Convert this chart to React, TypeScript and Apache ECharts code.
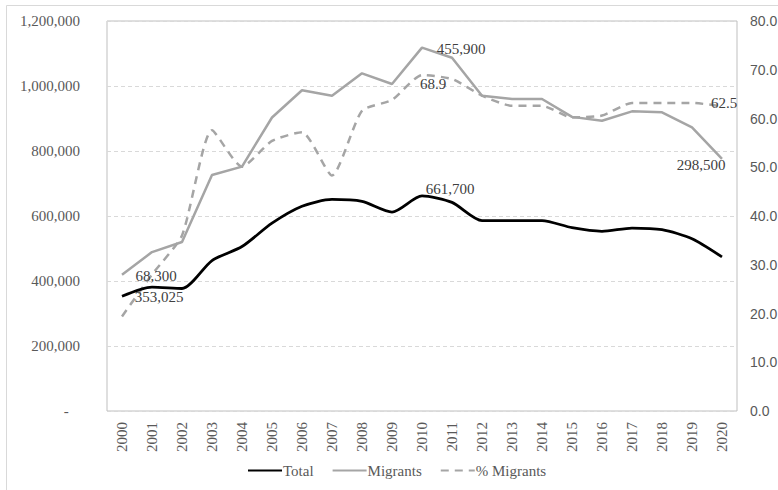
import React, { useEffect, useRef } from "react";
import * as echarts from "echarts";

const years = ["2000","2001","2002","2003","2004","2005","2006","2007","2008","2009","2010","2011","2012","2013","2014","2015","2016","2017","2018","2019","2020"];
const totalValues = [353025, 381000, 377000, 463000, 506000, 578000, 630000, 651000, 645000, 612000, 661700, 642000, 586000, 586000, 586000, 564000, 553000, 563000, 558000, 530000, 474000];
// Migrants line as drawn against the left axis
const migrantsValues = [419500, 489000, 520000, 726000, 752000, 903000, 987000, 970000, 1039000, 1006000, 1118000, 1087000, 970000, 960000, 960000, 905000, 893000, 922000, 919000, 873000, 776000];
// Migrants values printed as labels on the chart
const migrantsLabelYears = ["2000", "2010", "2020"];
const migrantsLabelValues = [68300, 455900, 298500];
const pctValues = [19.4, 28.0, 36.0, 57.6, 50.1, 55.4, 57.2, 48.3, 61.6, 63.8, 68.9, 68.1, 64.7, 62.6, 62.6, 60.2, 60.6, 63.2, 63.2, 63.2, 62.5];
const totalLabelYears = ["2000", "2010"];
const pctLabelYears = ["2010", "2020"];
const leftTicks = { min: 0, max: 1200000, interval: 200000 };
const rightTicks = { min: 0, max: 80, interval: 10 };

const fmt = (v: number) => v.toLocaleString("en-US");

const serif = "'Liberation Serif', 'Times New Roman', serif";
const sans = "'Liberation Sans', Arial, sans-serif";

const labelStyle = { color: "#404040", fontFamily: serif, fontSize: 15 };

export default function App() {
  const ref = useRef<HTMLDivElement>(null);
  useEffect(() => {
    if (!ref.current) return;
    const chart = echarts.init(ref.current, null, { renderer: "svg" });

    const totalOffsets: Record<string, number[]> = { "2000": [37, 1], "2010": [28, -7] };
    const migOffsets: Record<string, number[]> = { "2000": [34, 1], "2010": [39, 1], "2020": [-21, 6] };
    const pctOffsets: Record<string, number[]> = { "2010": [11, 9], "2020": [2, -3] };

    const totalData = totalValues.map((v, i) => {
      const y = years[i];
      if (totalLabelYears.includes(y)) {
        return { value: v, label: { show: true, position: "inside", offset: totalOffsets[y], formatter: fmt(v), ...labelStyle } };
      }
      return v;
    });
    const migData = migrantsValues.map((v, i) => {
      const y = years[i];
      const k = migrantsLabelYears.indexOf(y);
      if (k >= 0) {
        return { value: v, label: { show: true, position: "inside", offset: migOffsets[y], formatter: fmt(migrantsLabelValues[k]), ...labelStyle } };
      }
      return v;
    });
    const pctData = pctValues.map((v, i) => {
      const y = years[i];
      if (pctLabelYears.includes(y)) {
        return { value: v, label: { show: true, position: "inside", offset: pctOffsets[y], formatter: v.toFixed(1), ...labelStyle } };
      }
      return v;
    });

    const hiddenSymbol = {
      symbol: "circle",
      symbolSize: 1,
      showSymbol: true,
      itemStyle: { color: "rgba(0,0,0,0)" },
    };

    chart.setOption({
      animation: false,
      backgroundColor: "#ffffff",
      graphic: [
        {
          type: "rect",
          shape: { x: 6.5, y: 5.5, width: 800, height: 500 },
          style: { fill: "none", stroke: "#d9d9d9", lineWidth: 1 },
          silent: true,
          z: -10,
        },
      ],
      grid: {
        left: 107,
        right: 41,
        top: 21,
        bottom: 79,
        show: true,
        borderColor: "#bfbfbf",
        borderWidth: 1,
        containLabel: false,
        outerBoundsMode: "none",
      },
      legend: {
        left: 242,
        top: 458,
        itemWidth: 34,
        itemHeight: 14,
        itemGap: 18,
        textStyle: { fontFamily: serif, fontSize: 15, color: "#595959", padding: [0, 0, 0, -4] },
        data: ["Total", "Migrants", "% Migrants"],
      },
      xAxis: {
        type: "category",
        data: years,
        boundaryGap: true,
        axisLine: { show: false },
        axisTick: { show: false },
        axisLabel: { rotate: 90, margin: 11, fontFamily: serif, fontSize: 15, color: "#595959", interval: 0 },
        splitLine: { show: false },
      },
      yAxis: [
        {
          type: "value",
          min: leftTicks.min,
          max: leftTicks.max,
          interval: leftTicks.interval,
          axisLine: { show: false },
          axisTick: { show: false },
          axisLabel: {
            margin: 27,
            fontFamily: serif,
            fontSize: 15,
            color: "#595959",
            formatter: (v: number) => (v === 0 ? "-   " : fmt(v)),
          },
          splitLine: { show: true, lineStyle: { color: "#d9d9d9", type: [4, 3], width: 1 } },
        },
        {
          type: "value",
          min: rightTicks.min,
          max: rightTicks.max,
          interval: rightTicks.interval,
          position: "right",
          axisLine: { show: false },
          axisTick: { show: false },
          axisLabel: {
            margin: 13,
            fontFamily: sans,
            fontSize: 14,
            color: "#595959",
            formatter: (v: number) => v.toFixed(1),
          },
          splitLine: { show: false },
        },
      ],
      series: [
        {
          name: "Total",
          type: "line",
          yAxisIndex: 0,
          data: totalData,
          smooth: 0.25,
          ...hiddenSymbol,
          lineStyle: { color: "#000000", width: 2.8 },
          z: 4,
        },
        {
          name: "Migrants",
          type: "line",
          yAxisIndex: 0,
          data: migData,
          smooth: false,
          ...hiddenSymbol,
          lineStyle: { color: "#a5a5a5", width: 2.5 },
          z: 3,
        },
        {
          name: "% Migrants",
          type: "line",
          yAxisIndex: 1,
          data: pctData,
          smooth: 0.2,
          ...hiddenSymbol,
          lineStyle: { color: "#a5a5a5", width: 2.5, type: [8, 6] },
          z: 2,
        },
      ],
    });
    return () => chart.dispose();
  }, []);
  return (
    <div
      ref={ref}
      style={{ position: "absolute", left: 0, top: 0, width: 778, height: 490 }}
    />
  );
}
